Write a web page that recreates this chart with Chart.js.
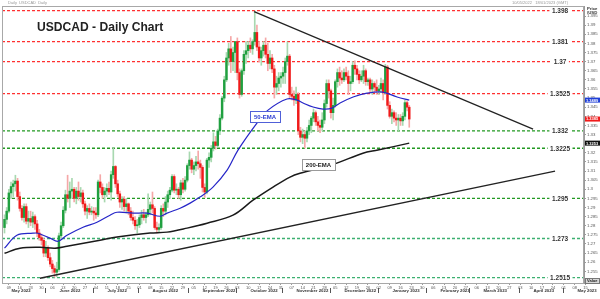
<!DOCTYPE html>
<html>
<head>
<meta charset="utf-8">
<script src="https://cdn.jsdelivr.net/npm/chart.js@4.4.1/dist/chart.umd.min.js"></script>
<style>
  html, body { margin: 0; padding: 0; background: #fff; }
</style>
</head>
<body>
<canvas id="chart" width="600" height="299"></canvas>
<script>
// ---- data ----
const axisStart = '2022-05-02';   // first Monday on the time axis
const firstCandleOffset = 3;      // first candle is Thu 5 May 2022

const opens = [1.2790, 1.2835,
  1.2880, 1.2980, 1.3015, 1.3030, 1.3045,
  1.2960, 1.2895, 1.2845, 1.2905, 1.2825,
  1.2840, 1.2820, 1.2850, 1.2810, 1.2760,
  1.2735, 1.2720, 1.2650, 1.2680, 1.2625,
  1.2590, 1.2565, 1.2545, 1.2560, 1.2745,
  1.2800, 1.2885, 1.2970, 1.2950, 1.2990,
  1.3000, 1.2950, 1.2990, 1.2960, 1.2980,
  1.2920, 1.2880, 1.2895, 1.2875, 1.2880,
  1.2870, 1.2860, 1.3040, 1.3010, 1.2970,
  1.2990, 1.3005, 1.2985, 1.3080, 1.3125,
  1.3030, 1.2975, 1.2930, 1.2945, 1.2905,
  1.2920, 1.2880, 1.2845, 1.2830, 1.2800,
  1.2805, 1.2845, 1.2860, 1.2845, 1.2860,
  1.2890, 1.2915, 1.2895, 1.2790, 1.2780,
  1.2790, 1.2895, 1.2880, 1.2930, 1.2970,
  1.2995, 1.3070, 1.2995, 1.3000, 1.2970,
  1.3035, 1.3000, 1.3050, 1.3130, 1.3160,
  1.3110, 1.3130, 1.3150, 1.3140, 1.3120,
  1.3010, 1.2985, 1.3160, 1.3175, 1.3225,
  1.3260, 1.3240, 1.3320, 1.3390, 1.3500,
  1.3600, 1.3720, 1.3770, 1.3700, 1.3750,
  1.3810, 1.3640, 1.3520, 1.3650, 1.3740,
  1.3760, 1.3790, 1.3770, 1.3810, 1.3860,
  1.3780, 1.3720, 1.3760, 1.3790, 1.3740,
  1.3690, 1.3720, 1.3660, 1.3560, 1.3580,
  1.3610, 1.3620, 1.3640, 1.3700, 1.3730,
  1.3520, 1.3510, 1.3490, 1.3520, 1.3320,
  1.3285, 1.3300, 1.3280, 1.3320, 1.3350,
  1.3390, 1.3420, 1.3370, 1.3350, 1.3340,
  1.3380, 1.3470, 1.3580, 1.3540, 1.3420,
  1.3460, 1.3590, 1.3640, 1.3610, 1.3600,
  1.3640, 1.3620, 1.3580, 1.3590, 1.3680,
  1.3660, 1.3630, 1.3600, 1.3620, 1.3650,
  1.3590, 1.3600, 1.3550, 1.3580, 1.3560,
  1.3540, 1.3550, 1.3580, 1.3530, 1.3670,
  1.3460, 1.3400, 1.3420, 1.3390, 1.3380,
  1.3390, 1.3375, 1.3400, 1.3475, 1.3450];

const highs = [1.2860, 1.2900,
  1.3000, 1.3040, 1.3050, 1.3077, 1.3060,
  1.2985, 1.2910, 1.2920, 1.2920, 1.2880,
  1.2880, 1.2875, 1.2860, 1.2830, 1.2780,
  1.2755, 1.2730, 1.2715, 1.2690, 1.2650,
  1.2610, 1.2580, 1.2600, 1.2760, 1.2820,
  1.2905, 1.2995, 1.3077, 1.3040, 1.3060,
  1.3010, 1.3010, 1.3040, 1.3010, 1.2995,
  1.2935, 1.2910, 1.2920, 1.2905, 1.2900,
  1.2900, 1.3050, 1.3080, 1.3030, 1.3010,
  1.3030, 1.3040, 1.3100, 1.3224, 1.3130,
  1.3050, 1.2990, 1.2960, 1.2960, 1.2950,
  1.2925, 1.2900, 1.2880, 1.2850, 1.2835,
  1.2860, 1.2885, 1.2890, 1.2875, 1.2975,
  1.2930, 1.2985, 1.2905, 1.2820, 1.2810,
  1.2910, 1.2920, 1.2960, 1.2990, 1.3010,
  1.3080, 1.3080, 1.3030, 1.3010, 1.3050,
  1.3060, 1.3070, 1.3140, 1.3205, 1.3170,
  1.3150, 1.3180, 1.3210, 1.3160, 1.3130,
  1.3030, 1.3170, 1.3200, 1.3240, 1.3310,
  1.3290, 1.3330, 1.3410, 1.3510, 1.3620,
  1.3750, 1.3800, 1.3838, 1.3780, 1.3810,
  1.3830, 1.3660, 1.3660, 1.3760, 1.3810,
  1.3810, 1.3830, 1.3820, 1.3977, 1.3900,
  1.3810, 1.3780, 1.3810, 1.3830, 1.3800,
  1.3760, 1.3740, 1.3680, 1.3620, 1.3640,
  1.3640, 1.3670, 1.3720, 1.3808, 1.3740,
  1.3560, 1.3540, 1.3560, 1.3530, 1.3340,
  1.3330, 1.3320, 1.3340, 1.3380, 1.3400,
  1.3440, 1.3430, 1.3400, 1.3380, 1.3420,
  1.3490, 1.3600, 1.3600, 1.3550, 1.3500,
  1.3600, 1.3660, 1.3670, 1.3650, 1.3660,
  1.3670, 1.3650, 1.3620, 1.3700, 1.3705,
  1.3680, 1.3650, 1.3650, 1.3680, 1.3660,
  1.3610, 1.3610, 1.3600, 1.3590, 1.3600,
  1.3570, 1.3610, 1.3600, 1.3685, 1.3680,
  1.3480, 1.3440, 1.3430, 1.3420, 1.3410,
  1.3410, 1.3420, 1.3488, 1.3485, 1.3460];

const lows = [1.2760, 1.2810,
  1.2870, 1.2950, 1.2960, 1.2990, 1.2940,
  1.2880, 1.2830, 1.2820, 1.2810, 1.2790,
  1.2800, 1.2790, 1.2780, 1.2740, 1.2720,
  1.2695, 1.2630, 1.2630, 1.2610, 1.2575,
  1.2540, 1.2518, 1.2520, 1.2550, 1.2730,
  1.2790, 1.2870, 1.2930, 1.2900, 1.2950,
  1.2930, 1.2920, 1.2940, 1.2930, 1.2900,
  1.2860, 1.2840, 1.2860, 1.2860, 1.2830,
  1.2840, 1.2850, 1.2980, 1.2950, 1.2930,
  1.2960, 1.2970, 1.2940, 1.3060, 1.3010,
  1.2960, 1.2900, 1.2890, 1.2880, 1.2870,
  1.2860, 1.2830, 1.2810, 1.2780, 1.2760,
  1.2790, 1.2810, 1.2830, 1.2815, 1.2850,
  1.2860, 1.2870, 1.2780, 1.2760, 1.2765,
  1.2780, 1.2850, 1.2860, 1.2900, 1.2950,
  1.2985, 1.2980, 1.2970, 1.2950, 1.2940,
  1.2980, 1.2990, 1.3040, 1.3110, 1.3090,
  1.3080, 1.3100, 1.3110, 1.3060, 1.2985,
  1.2955, 1.2975, 1.3120, 1.3150, 1.3210,
  1.3220, 1.3230, 1.3300, 1.3380, 1.3480,
  1.3590, 1.3680, 1.3640, 1.3650, 1.3640,
  1.3600, 1.3500, 1.3510, 1.3630, 1.3690,
  1.3720, 1.3750, 1.3740, 1.3790, 1.3760,
  1.3700, 1.3680, 1.3730, 1.3720, 1.3650,
  1.3660, 1.3640, 1.3500, 1.3520, 1.3540,
  1.3560, 1.3580, 1.3580, 1.3680, 1.3500,
  1.3490, 1.3460, 1.3470, 1.3300, 1.3260,
  1.3250, 1.3226, 1.3260, 1.3300, 1.3310,
  1.3370, 1.3350, 1.3320, 1.3310, 1.3320,
  1.3360, 1.3450, 1.3500, 1.3390, 1.3380,
  1.3450, 1.3560, 1.3570, 1.3580, 1.3590,
  1.3600, 1.3520, 1.3540, 1.3580, 1.3630,
  1.3600, 1.3580, 1.3590, 1.3580, 1.3570,
  1.3570, 1.3530, 1.3520, 1.3530, 1.3520,
  1.3520, 1.3530, 1.3490, 1.3520, 1.3440,
  1.3390, 1.3360, 1.3370, 1.3350, 1.3322,
  1.3350, 1.3350, 1.3380, 1.3430, 1.3340];

const closes = [1.2835, 1.2880,
  1.2980, 1.3015, 1.3030, 1.3045, 1.2960,
  1.2895, 1.2845, 1.2905, 1.2825, 1.2840,
  1.2820, 1.2850, 1.2810, 1.2760, 1.2735,
  1.2720, 1.2650, 1.2680, 1.2625, 1.2590,
  1.2565, 1.2545, 1.2560, 1.2745, 1.2800,
  1.2885, 1.2970, 1.2950, 1.2990, 1.3000,
  1.2950, 1.2990, 1.2960, 1.2980, 1.2920,
  1.2880, 1.2895, 1.2875, 1.2880, 1.2870,
  1.2860, 1.3040, 1.3010, 1.2970, 1.2990,
  1.3005, 1.2985, 1.3080, 1.3125, 1.3030,
  1.2975, 1.2930, 1.2945, 1.2905, 1.2920,
  1.2880, 1.2845, 1.2830, 1.2800, 1.2805,
  1.2845, 1.2860, 1.2845, 1.2860, 1.2890,
  1.2915, 1.2895, 1.2790, 1.2780, 1.2790,
  1.2895, 1.2880, 1.2930, 1.2970, 1.2995,
  1.3070, 1.2995, 1.3000, 1.2970, 1.3035,
  1.3000, 1.3050, 1.3130, 1.3160, 1.3110,
  1.3130, 1.3150, 1.3140, 1.3120, 1.3010,
  1.2985, 1.3160, 1.3175, 1.3225, 1.3260,
  1.3240, 1.3320, 1.3390, 1.3500, 1.3600,
  1.3720, 1.3770, 1.3700, 1.3750, 1.3810,
  1.3640, 1.3520, 1.3650, 1.3740, 1.3760,
  1.3790, 1.3770, 1.3810, 1.3860, 1.3780,
  1.3720, 1.3760, 1.3790, 1.3740, 1.3690,
  1.3720, 1.3660, 1.3560, 1.3580, 1.3610,
  1.3620, 1.3640, 1.3700, 1.3730, 1.3520,
  1.3510, 1.3490, 1.3520, 1.3320, 1.3285,
  1.3300, 1.3280, 1.3320, 1.3350, 1.3390,
  1.3420, 1.3370, 1.3350, 1.3340, 1.3380,
  1.3470, 1.3580, 1.3540, 1.3420, 1.3460,
  1.3590, 1.3640, 1.3610, 1.3600, 1.3640,
  1.3620, 1.3580, 1.3590, 1.3680, 1.3660,
  1.3630, 1.3600, 1.3620, 1.3650, 1.3590,
  1.3600, 1.3550, 1.3580, 1.3560, 1.3540,
  1.3550, 1.3580, 1.3530, 1.3670, 1.3460,
  1.3400, 1.3420, 1.3390, 1.3380, 1.3390,
  1.3375, 1.3400, 1.3475, 1.3450, 1.3385];

// moving averages, read at a few candle positions
const ema50Idx = [0, 5.7, 13.1, 15.4, 20.9, 24.6, 28.7, 36.1, 42.5, 48.5, 51.7, 59.1, 65.5, 71.5, 74.7,
  80.7, 85.3, 89.8, 95.8, 102.3, 107.3, 116, 121.1, 129.8, 134.4, 137.2, 141.8, 146.4, 150.5, 154.2,
  160.2, 166.6, 173.9, 180.4, 186];
const ema50Vals = [1.2677, 1.2748, 1.2759, 1.2759, 1.2732, 1.2715, 1.2748, 1.2792, 1.2819, 1.2858, 1.2874,
  1.2869, 1.2869, 1.2852, 1.2869, 1.2896, 1.2924, 1.2957, 1.3012, 1.3105, 1.3215, 1.3363, 1.3434, 1.3495,
  1.3489, 1.3473, 1.3451, 1.3440, 1.3445, 1.3473, 1.3506, 1.3527, 1.3533, 1.3506, 1.3489];
const ema200Idx = [0, 7.1, 16.3, 23.2, 28.7, 43.9, 51.7, 66.9, 74.7, 83.9, 93.1, 105, 114.2, 123.4, 131.2,
  135.8, 151.4, 164.7, 171.6, 186];
const ema200Vals = [1.2649, 1.2677, 1.2682, 1.2677, 1.2688, 1.2721, 1.2738, 1.2760, 1.2765, 1.2787, 1.2814,
  1.2858, 1.2940, 1.3012, 1.3067, 1.3088, 1.3138, 1.3198, 1.3215, 1.3253];

// trend lines
const downTrendIdx = [114.7, 242.9];
const downTrendVals = [1.3974, 1.3330];
const upTrendIdx = [16.3, 253];
const upTrendVals = [1.2512, 1.3099];

// horizontal levels
const resistance = [1.398, 1.381, 1.37, 1.3525];
const support = [1.332, 1.3225, 1.295];
const deepSupport = [1.273, 1.2515];

const priceTicks = [1.255, 1.26, 1.265, 1.27, 1.275, 1.28, 1.285, 1.29, 1.295, 1.3, 1.305, 1.31, 1.315,
  1.32, 1.325, 1.33, 1.335, 1.34, 1.345, 1.35, 1.355, 1.36, 1.365, 1.37, 1.375, 1.38, 1.385, 1.39, 1.395];
const monthNames = ['January', 'February', 'March', 'April', 'May', 'June', 'July', 'August',
  'September', 'October', 'November', 'December'];

// ---- layout / style ----
const FONT = '"Liberation Sans", Arial, sans-serif';
const XMIN = -1.15, XMAX = 266.3, YMIN = 1.2486, YMAX = 1.4005;
const LEVEL_LABEL_X = 255.3;

// trading days along the axis
const trading = [];
(function () {
  const d = new Date(axisStart + 'T00:00:00Z');
  let k = -firstCandleOffset;
  while (k <= 272) {
    const wd = d.getUTCDay();
    if (wd >= 1 && wd <= 5) { trading.push({ idx: k, date: new Date(d) }); k++; }
    d.setUTCDate(d.getUTCDate() + 1);
  }
})();
const dayByIdx = {};
trading.forEach(t => { dayByIdx[t.idx] = t.date; });
const mondayIdx = trading.filter(t => t.date.getUTCDay() === 1 && t.idx >= XMIN && t.idx <= XMAX + 1).map(t => t.idx);
const monthStarts = trading.filter((t, i) => i === 0 || t.date.getUTCMonth() !== trading[i - 1].date.getUTCMonth());

const up = i => closes[i] >= opens[i];
const bodyCol = closes.map((c, i) => up(i) ? '#20a040' : '#f01a1a');
const wickCol = closes.map((c, i) => up(i) ? '#a8d8b0' : '#f5a8a8');

const pts = (xs, ys) => xs.map((v, i) => ({ x: v, y: ys[i] }));
const levelSet = (vals, color) => vals.map(v => ({
  type: 'line', data: [{ x: XMIN, y: v }, { x: XMAX, y: v }], borderColor: color,
  borderWidth: 1.3, borderDash: [3, 2], pointRadius: 0, order: 20
}));

const overlay = {
  id: 'overlay',
  beforeDraw(chart) {
    const ctx = chart.ctx;
    ctx.save();
    ctx.fillStyle = '#fff';
    ctx.fillRect(0, 0, chart.width, chart.height);
    ctx.restore();
  },
  afterDatasetsDraw(chart) {
    const { ctx, scales: { x, y } } = chart;
    ctx.save();
    // level labels
    ctx.font = 'bold 6.5px ' + FONT;
    ctx.textAlign = 'center';
    ctx.textBaseline = 'middle';
    resistance.concat(support, deepSupport).forEach(v => {
      const px = x.getPixelForValue(LEVEL_LABEL_X), py = y.getPixelForValue(v);
      const t = String(v), w = ctx.measureText(t).width;
      ctx.fillStyle = '#fff';
      ctx.fillRect(px - w / 2 - 2.5, py - 2.5, w + 5, 5);
      ctx.fillStyle = '#333';
      ctx.fillText(t, px, py + 0.5);
    });
    // EMA tags
    const tag = (idx, val, text, border, color) => {
      const px = x.getPixelForValue(idx), py = y.getPixelForValue(val);
      ctx.font = 'bold 6px ' + FONT;
      const w = ctx.measureText(text).width + 8, h = 11;
      ctx.fillStyle = '#fff';
      ctx.fillRect(px - w / 2, py - h / 2, w, h);
      ctx.strokeStyle = border;
      ctx.lineWidth = 1;
      ctx.strokeRect(Math.round(px - w / 2) + 0.5, Math.round(py - h / 2) + 0.5, Math.round(w), h);
      ctx.fillStyle = color;
      ctx.fillText(text, px, py + 0.5);
    };
    tag(119.7, 1.3398, '50-EMA', '#5060d8', '#2a3ad0');
    tag(144.3, 1.3135, '200-EMA', '#9a9a9a', '#222');
    // title
    ctx.font = 'bold 13px ' + FONT;
    ctx.textAlign = 'left';
    ctx.textBaseline = 'alphabetic';
    ctx.fillStyle = '#222';
    ctx.translate(37, 31);
    ctx.scale(0.93, 1);
    ctx.fillText('USDCAD - Daily Chart', 0, 0);
    ctx.restore();
  },
  afterDraw(chart) {
    const { ctx, chartArea: a, scales: { x, y } } = chart;
    ctx.save();
    // frame
    ctx.strokeStyle = '#a8a8a8';
    ctx.lineWidth = 1;
    ctx.strokeRect(a.left + 0.5, a.top + 0.5, a.right - a.left - 1, a.bottom - a.top);
    // header
    ctx.font = '4px ' + FONT;
    ctx.fillStyle = '#999';
    ctx.textBaseline = 'middle';
    ctx.textAlign = 'left';
    ctx.fillText('Daily  USDCAD  Daily', 8, 3);
    ctx.textAlign = 'right';
    ctx.fillText('10/05/2022   18/01/2023 (GMT)', 568, 3);
    // months
    ctx.font = 'bold 4.3px ' + FONT;
    ctx.fillStyle = '#333';
    ctx.strokeStyle = '#555';
    monthStarts.forEach(m => {
      const sx = Math.round(x.getPixelForValue(m.idx) - 1) + 0.5;
      if (sx > a.left + 2 && sx < a.right) {
        ctx.beginPath(); ctx.moveTo(sx, 288); ctx.lineTo(sx, 293); ctx.stroke();
      }
      const lx = sx + 14;
      if (lx < a.right) {
        ctx.textAlign = 'left';
        ctx.fillText(monthNames[m.date.getUTCMonth()] + ' ' + m.date.getUTCFullYear(), lx, 291);
      }
    });
    // price axis captions and tags
    ctx.textAlign = 'left';
    ctx.font = 'bold 4.3px ' + FONT;
    ctx.fillStyle = '#333';
    ctx.fillText('Price', 587, 8.5);
    ctx.fillText('/USD', 587, 13);
    const last = closes.length - 1;
    const ptag = (val, bg, fg) => {
      const py = y.getPixelForValue(val);
      ctx.fillStyle = bg;
      ctx.fillRect(585, py - 2.5, 15, 5);
      ctx.fillStyle = fg;
      ctx.font = 'bold 4px ' + FONT;
      ctx.fillText(val.toFixed(4), 586, py + 0.3);
    };
    ptag(ema50Vals[ema50Vals.length - 1], '#1f3fd8', '#fff');
    ptag(closes[last], '#f01a1a', '#fff');
    ptag(ema200Vals[ema200Vals.length - 1], '#111', '#fff');
    ctx.fillStyle = '#d8d8d8';
    ctx.fillRect(585, 278, 15, 5.5);
    ctx.strokeStyle = '#777';
    ctx.strokeRect(585.5, 278.5, 14, 5);
    ctx.fillStyle = '#222';
    ctx.font = 'bold 4px ' + FONT;
    ctx.fillText('Value', 587, 281.2);
    ctx.restore();
  }
};

new Chart(document.getElementById('chart'), {
  type: 'line',
  data: {
    datasets: [
      ...levelSet(resistance, '#ff3030'),
      ...levelSet(support, '#229922'),
      ...levelSet(deepSupport, '#3cb070'),
      {
        type: 'bar', data: highs.map((h, i) => ({ x: i, y: [lows[i], h] })),
        backgroundColor: wickCol, barThickness: 1, grouped: false, order: 15
      },
      {
        type: 'bar', data: opens.map((o, i) => ({ x: i, y: [o, closes[i]] })),
        backgroundColor: bodyCol, barThickness: 1.8, minBarLength: 1, grouped: false, order: 14
      },
      {
        data: pts(ema200Idx, ema200Vals), borderColor: '#1a1a1a', borderWidth: 1.5,
        pointRadius: 0, tension: 0.35, order: 5
      },
      {
        data: pts(ema50Idx, ema50Vals), borderColor: '#2626c8', borderWidth: 1.2,
        pointRadius: 0, tension: 0.35, order: 4
      },
      {
        data: pts(downTrendIdx, downTrendVals), borderColor: '#222', borderWidth: 1.3,
        pointRadius: 0, order: 3
      },
      {
        data: pts(upTrendIdx, upTrendVals), borderColor: '#222', borderWidth: 1.3,
        pointRadius: 0, order: 3
      }
    ]
  },
  options: {
    responsive: false,
    animation: false,
    events: [],
    layout: { padding: { left: 2, top: 6, right: 0, bottom: 0 } },
    plugins: { legend: { display: false }, tooltip: { enabled: false } },
    scales: {
      x: {
        type: 'linear', min: XMIN, max: XMAX, offset: false,
        grid: { drawOnChartArea: false, drawTicks: true, tickLength: 2, color: '#9a9a9a', offset: false },
        border: { color: '#9a9a9a' },
        ticks: {
          autoSkip: false, maxRotation: 0, padding: 0, color: '#555',
          font: { size: 4, family: FONT },
          callback: v => dayByIdx[v] ? String(dayByIdx[v].getUTCDate()).padStart(2, '0') : ''
        },
        afterBuildTicks: s => { s.ticks = mondayIdx.map(v => ({ value: v })); },
        afterFit: s => { s.height = 16; }
      },
      y: {
        type: 'linear', position: 'right', min: YMIN, max: YMAX, beginAtZero: false,
        grid: { drawOnChartArea: false, tickLength: 2, color: '#9a9a9a' },
        border: { color: '#9a9a9a' },
        ticks: {
          autoSkip: false, padding: 1, color: '#555',
          font: { size: 4.3, family: FONT },
          callback: v => String(+v.toFixed(3))
        },
        afterBuildTicks: s => { s.ticks = priceTicks.map(v => ({ value: v })); },
        afterFit: s => { s.width = 16; }
      }
    }
  },
  plugins: [overlay]
});
</script>
</body>
</html>
